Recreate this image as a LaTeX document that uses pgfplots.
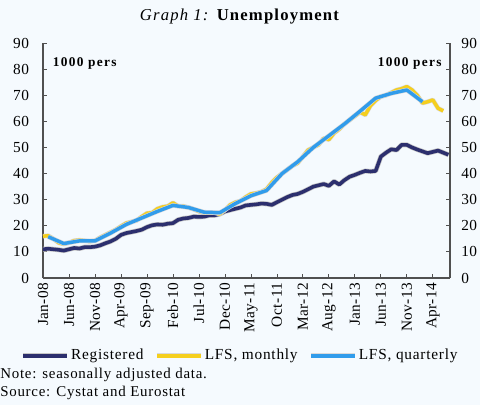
\documentclass[border=0pt]{standalone}
\usepackage{pgfplots}
\pgfplotsset{compat=1.18}
\usepackage{fontspec}
\setmainfont{Liberation Serif}
\newfontfamily\tickfont[LetterSpace=3]{Liberation Serif}
\newfontfamily\legfont[LetterSpace=5]{Liberation Serif}
\newfontfamily\titlefont[LetterSpace=7]{Liberation Serif}
\newfontfamily\persfont[LetterSpace=10]{Liberation Serif}
\definecolor{bg}{HTML}{F5FAFE}
\definecolor{regc}{HTML}{2C2F6E}
\definecolor{lfsm}{HTML}{F5CF1E}
\definecolor{lfsq}{HTML}{319CEB}
\definecolor{axc}{HTML}{505050}
\begin{document}
\begin{tikzpicture}
\fill[bg] (0pt,0pt) rectangle (360pt,303.75pt);
\useasboundingbox (0pt,0pt) rectangle (360pt,303.75pt);
\node[font=\titlefont\fontsize{12.5}{14}\selectfont] at (180pt,291pt) {\textit{Graph 1:} \textbf{Unemployment}};
\begin{axis}[
  name=main,
  at={(32.25pt,95.25pt)}, anchor=south west,
  scale only axis, width=305.25pt, height=176.25pt,
  xmin=0, xmax=78.3, ymin=0, ymax=90,
  axis x line*=bottom, axis y line*=left,
  axis line style={axc, line width=0.8pt},
  tick style={axc, line width=0.6pt},
  tick align=inside, major tick length=3pt,
  ytick={0,10,...,90},
  xtick={0,5,...,75},
  xticklabels={Jan-08,Jun-08,Nov-08,Apr-09,Sep-09,Feb-10,Jul-10,Dec-10,May-11,Oct-11,Mar-12,Aug-12,Jan-13,Jun-13,Nov-13,Apr-14},
  x tick label style={rotate=90, anchor=east, font=\tickfont\fontsize{11.5}{13}\selectfont},
  y tick label style={font=\tickfont\fontsize{11.5}{13}\selectfont},
  yticklabel style={xshift=-7pt},
  /pgf/number format/assume math mode=true,
  legend columns=3,
  legend style={draw=none, fill=none, at={(0.5,-0.33)}, anchor=center, xshift=-5pt,
    font=\legfont\fontsize{11.5}{13}\selectfont, column sep=0pt,
    nodes={inner xsep=1pt},
    /tikz/every even column/.append style={column sep=7.5pt}},
  legend image code/.code={\draw[#1, line width=3pt] (0pt,0pt) -- (33pt,0pt);},
  clip=false,
]
\addplot[regc, line width=2.7pt, line join=round, preaction={draw=gray!45, line width=3.7pt}] coordinates {
(0,11) (1,11.2) (2,11) (3,10.8) (4,10.5) (5,11) (6,11.5) (7,11.3) (8,11.8) (9,11.8)
(10,12) (11,12.5) (12,13.3) (13,14) (14,15) (15,16.5) (16,17.2) (17,17.6) (18,18) (19,18.5)
(20,19.5) (21,20.2) (22,20.5) (23,20.4) (24,20.8) (25,21) (26,22.3) (27,22.8) (28,23) (29,23.5)
(30,23.4) (31,23.5) (32,24) (33,24) (34,24.5) (35,25.5) (36,26) (37,26.5) (38,27) (39,27.8)
(40,28) (41,28.2) (42,28.5) (43,28.4) (44,28) (45,29) (46,30) (47,31) (48,31.8) (49,32.2)
(50,33) (51,34) (52,35) (53,35.5) (54,36) (55,35.3) (56,37) (57,35.8) (58,37.5) (59,38.8)
(60,39.5) (61,40.3) (62,41) (63,40.8) (64,41) (65,46.5) (66,48) (67,49.3) (68,49) (69,51)
(70,51) (71,50) (72,49.2) (73,48.5) (74,47.8) (75,48.3) (76,48.8) (77,48) (78,47.2)
};
\addlegendentry{Registered}
\addplot[lfsm, line width=2.6pt, line join=round, preaction={draw=gray!30, line width=3.4pt}] coordinates {
(0,16) (1,16.2) (2,15) (3,13.5) (4,13) (5,13.5) (6,14.3) (7,14.5) (8,14.3) (9,14)
(10,14.3) (11,15.5) (12,16.5) (13,17.5) (14,18.5) (15,19.8) (16,21) (17,21.5) (18,22) (19,23.5)
(20,24.8) (21,25) (22,26.5) (23,27.2) (24,27.5) (25,28.8) (26,27.5) (27,27.5) (28,27) (29,26.3)
(30,25.5) (31,25) (32,25) (33,25) (34,24.5) (35,26) (36,28) (37,29) (38,29.5) (39,31)
(40,32.2) (41,32.5) (42,33) (43,34) (44,36.5) (45,38.5) (46,40) (47,41.5) (48,43) (49,44)
(50,46.5) (51,49) (52,50) (53,51) (54,53.5) (55,53) (56,55.5) (57,57) (58,59) (59,60.5)
(60,62) (61,63.5) (62,62.5) (63,66) (64,68) (65,69.5) (66,70) (67,71) (68,72) (69,72.5)
(70,73.3) (71,72) (72,70) (73,67) (74,67.5) (75,68.2) (76,65) (77,64)
};
\addlegendentry{LFS, monthly}
\addplot[lfsq, line width=2.6pt, line join=round, preaction={draw=gray!30, line width=3.4pt}] coordinates {
(1,15.8) (4,13.2) (7,14.2) (10,14.2) (13,17.2) (16,20.5) (19,23) (22,25.5) (25,27.8)
(28,27) (31,25.2) (34,25) (37,28.5) (40,31.5) (43,33.5) (46,40) (49,44.5) (52,50)
(55,54.5) (58,59) (61,63.9) (64,68.9) (67,70.7) (70,72) (73,67.5)
};
\addlegendentry{LFS, quarterly}
\node[anchor=west, font=\persfont\bfseries\fontsize{10}{12}\selectfont] at (axis cs:1,82) {1000 pers};
\node[anchor=east, font=\persfont\bfseries\fontsize{10}{12}\selectfont] at (axis cs:77.6,82) {1000 pers};
\end{axis}
\begin{axis}[
  at={(32.25pt,95.25pt)}, anchor=south west,
  scale only axis, width=305.25pt, height=176.25pt,
  xmin=0, xmax=78.3, ymin=0, ymax=90,
  hide x axis, axis y line*=right,
  axis line style={axc, line width=0.8pt},
  tick style={axc, line width=0.6pt},
  tick align=inside, major tick length=3pt,
  ytick={0,10,...,90},
  y tick label style={font=\tickfont\fontsize{11.5}{13}\selectfont},
  yticklabel style={xshift=5pt},
  /pgf/number format/assume math mode=true,
]
\addplot[draw=none] coordinates {(0,0)};
\end{axis}
\node[anchor=west, inner xsep=0pt, font=\legfont\fontsize{11.2}{13}\selectfont] at (0pt,22.5pt) {Note: seasonally adjusted data.};
\node[anchor=west, inner xsep=0pt, font=\legfont\fontsize{11.2}{13}\selectfont] at (0pt,9pt) {Source: Cystat and Eurostat};
\end{tikzpicture}
\end{document}
